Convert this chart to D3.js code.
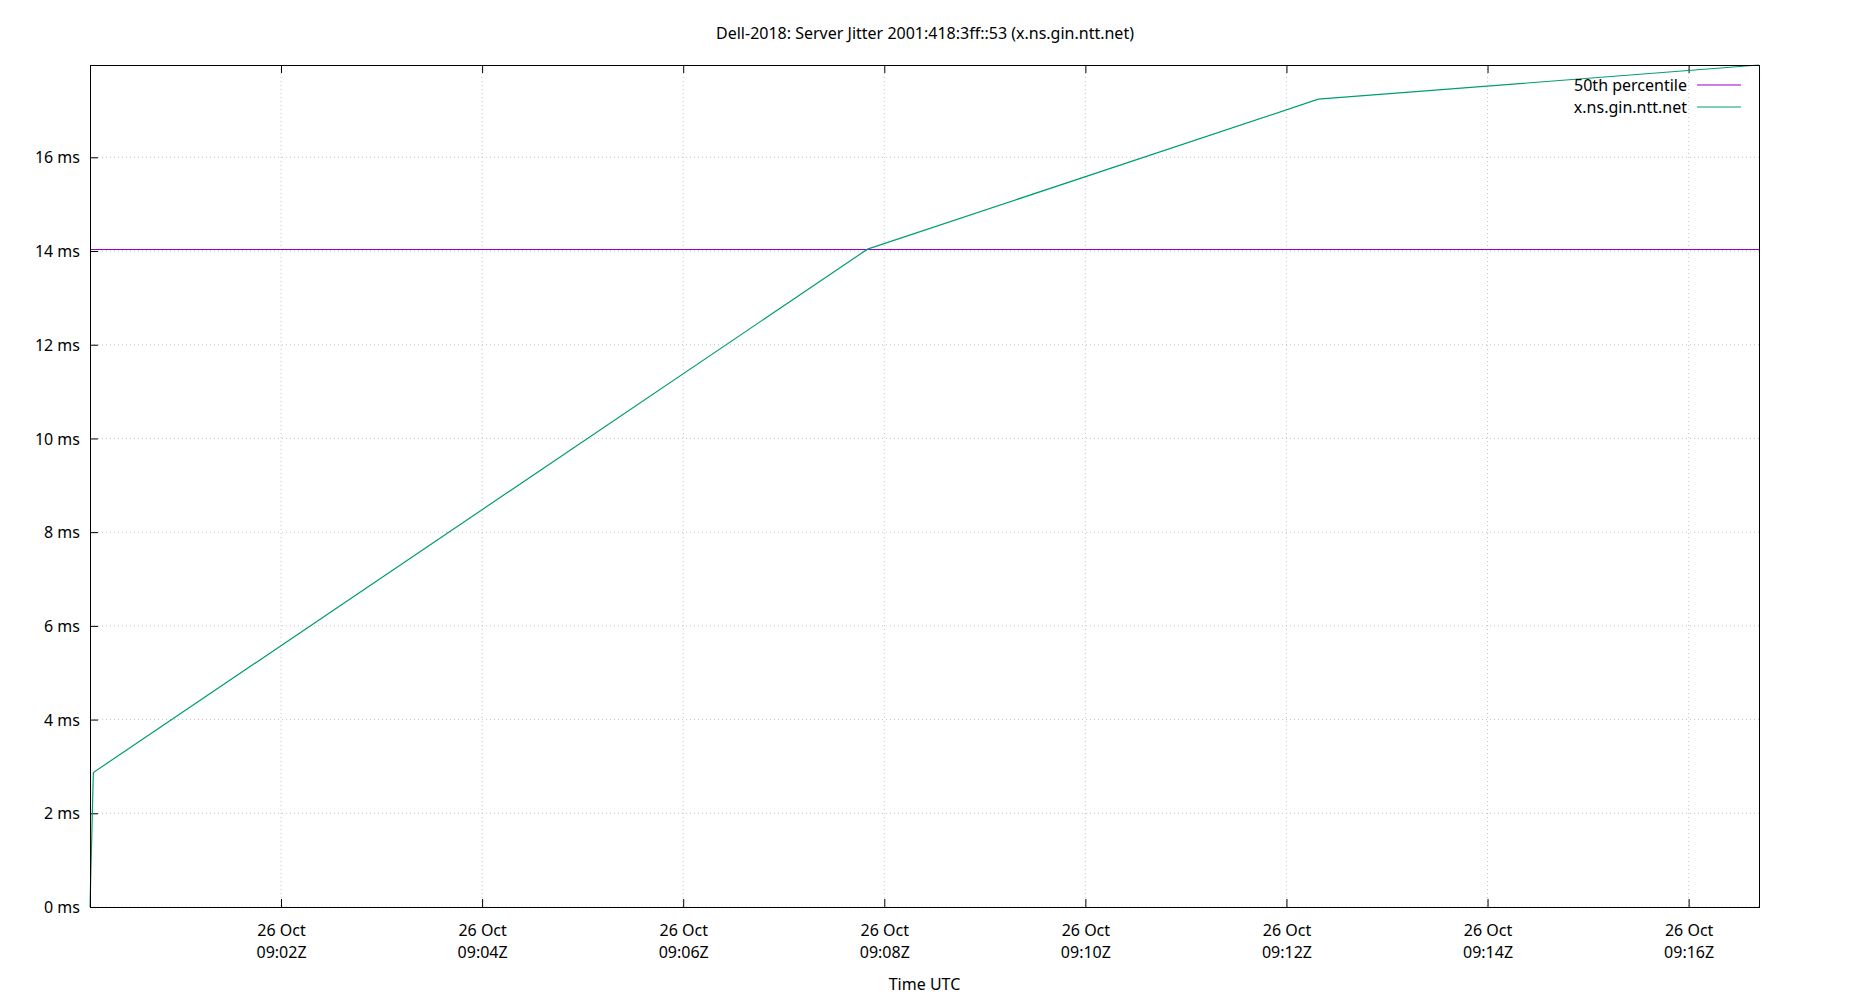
<!DOCTYPE html>
<html>
<head>
<meta charset="utf-8">
<script src="https://cdn.jsdelivr.net/npm/d3@7"></script>
<style>
  body { margin: 0; background: #fff; }
  text { font-family: "Noto Sans", sans-serif; font-size: 16px; fill: #000; }
</style>
</head>
<body>
<div id="chart"></div>
<script>
// sample times (UTC) and jitter values in ms
var times = ["2021-10-26T09:00:06Z", "2021-10-26T09:00:08Z", "2021-10-26T09:07:50Z",
             "2021-10-26T09:12:19Z", "2021-10-26T09:16:42Z"];
var jitter = [0.0, 2.87, 14.04, 17.24, 17.97];
var percentile50 = 14.04;
var yTicks = [0, 2, 4, 6, 8, 10, 12, 14, 16];
var seriesNames = ["50th percentile", "x.ns.gin.ntt.net"];
var seriesColors = ["#9400d3", "#009e73"];

var W = 1850, H = 1000;
var margin = {top: 65, right: 91, bottom: 93, left: 90};
var width = W - margin.left - margin.right,
    height = H - margin.top - margin.bottom;

var data = times.map(function(t, i) { return {t: new Date(t), v: jitter[i]}; });

var svg = d3.select("#chart").append("svg")
    .attr("width", W).attr("height", H);
var g = svg.append("g")
    .attr("transform", "translate(" + margin.left + "," + margin.top + ")");

var x = d3.scaleUtc()
    .domain(d3.extent(data, function(d) { return d.t; }))
    .range([0, width]);
var y = d3.scaleLinear()
    .domain([0, d3.max(jitter)])
    .range([height, 0]);

var xTicks = x.ticks(d3.utcMinute.every(2));

// grid
g.append("g").selectAll("line").data(yTicks).enter().append("line")
    .attr("x1", 0).attr("x2", width)
    .attr("y1", function(d) { return y(d); }).attr("y2", function(d) { return y(d); })
    .attr("stroke", "#c4c4c4").attr("stroke-dasharray", "1,3");
g.append("g").selectAll("line").data(xTicks).enter().append("line")
    .attr("y1", 0).attr("y2", height)
    .attr("x1", function(d) { return x(d); }).attr("x2", function(d) { return x(d); })
    .attr("stroke", "#c4c4c4").attr("stroke-dasharray", "1,3");

// y axis: inward ticks, left only
var yAxis = g.append("g")
    .call(d3.axisLeft(y).tickValues(yTicks).tickSize(-8).tickPadding(10)
          .tickFormat(function(d) { return d + " ms"; }));
yAxis.select(".domain").remove();
yAxis.selectAll("text").attr("dy", "0.35em");

// x axis bottom with two-line labels
var fmtDay = d3.utcFormat("%d %b"), fmtTime = d3.utcFormat("%H:%MZ");
var xAxis = g.append("g")
    .attr("transform", "translate(0," + height + ")")
    .call(d3.axisBottom(x).tickValues(xTicks).tickSize(-8).tickFormat(""));
xAxis.select(".domain").remove();
xAxis.selectAll(".tick").append("text")
    .attr("y", 29).attr("text-anchor", "middle").text(function(d) { return fmtDay(d); });
xAxis.selectAll(".tick").append("text")
    .attr("y", 51).attr("text-anchor", "middle").text(function(d) { return fmtTime(d); });

// mirrored ticks on top
var xTop = g.append("g")
    .call(d3.axisTop(x).tickValues(xTicks).tickSize(-8).tickFormat(""));
xTop.select(".domain").remove();

g.selectAll(".tick line").attr("stroke", "#000");
g.selectAll("text").attr("fill", "#000").style("font-family", "'Noto Sans', sans-serif").style("font-size", "16px");

// 50th percentile
g.append("line")
    .attr("x1", 0).attr("x2", width)
    .attr("y1", Math.round(y(percentile50)) + 0.5).attr("y2", Math.round(y(percentile50)) + 0.5)
    .attr("stroke", seriesColors[0]).attr("stroke-width", 1);

// jitter series
g.append("path").datum(data)
    .attr("fill", "none").attr("stroke", seriesColors[1]).attr("stroke-width", 1.2)
    .attr("d", d3.line().x(function(d) { return x(d.t); }).y(function(d) { return y(d.v); }));

// border
g.append("rect").attr("x", 0.5).attr("y", 0.5).attr("width", width).attr("height", height)
    .attr("fill", "none").attr("stroke", "#000").attr("stroke-width", 1);

// legend
var leg = g.append("g").selectAll("g").data(seriesNames).enter().append("g")
    .attr("transform", function(d, i) { return "translate(0," + (20 + i * 22) + ")"; });
leg.append("text").attr("x", 1597).attr("dy", "0.35em").attr("text-anchor", "end")
    .text(function(d) { return d; });
leg.append("line").attr("x1", 1607).attr("x2", 1651)
    .attr("stroke", function(d, i) { return seriesColors[i]; }).attr("stroke-width", 1.2);

// title and axis label
svg.append("text").attr("x", W / 2).attr("y", 39).attr("text-anchor", "middle")
    .text("Dell-2018: Server Jitter 2001:418:3ff::53 (x.ns.gin.ntt.net)");
svg.append("text").attr("x", margin.left + width / 2).attr("y", 990).attr("text-anchor", "middle")
    .text("Time UTC");
</script>
</body>
</html>
